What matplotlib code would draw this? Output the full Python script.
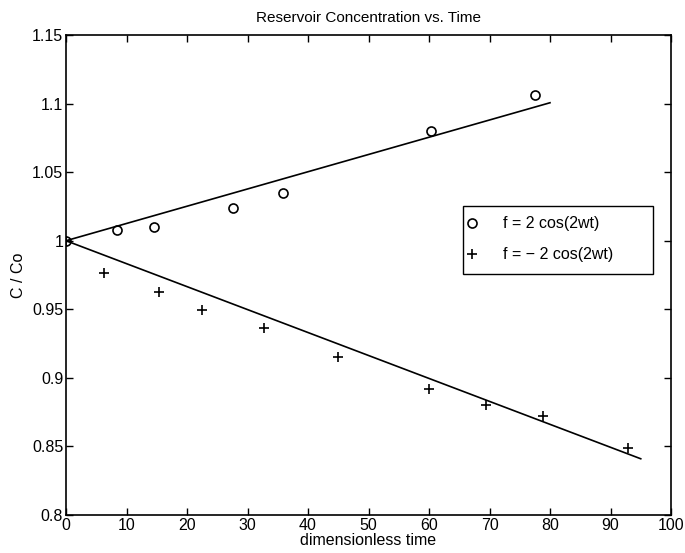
import numpy as np
import matplotlib
matplotlib.use("Agg")
import matplotlib.pyplot as plt
from matplotlib.ticker import FuncFormatter
from matplotlib.patches import Rectangle

plt.rcParams['font.family'] = ['Liberation Sans', 'DejaVu Sans']

# data
t_pos = [0, 8.4, 14.5, 27.6, 35.8, 60.3, 77.5]
c_pos = [1.000, 1.008, 1.0097, 1.0236, 1.0345, 1.0802, 1.1062]
t_neg = [0, 6.2, 15.4, 22.5, 32.7, 45.0, 60.0, 69.4, 78.9, 92.9]
c_neg = [1.000, 0.9762, 0.9626, 0.9492, 0.9361, 0.9154, 0.8919, 0.880, 0.8722, 0.8488]
fit_pos_t = [0, 80]
fit_pos_c = [1.0, 1.1006]
fit_neg_t = [0, 95]
fit_neg_c = [1.0, 0.841]

labels = ['f = 2 cos(2wt)', 'f = \u2212 2 cos(2wt)']
x_ticks = list(range(0, 101, 10))
y_ticks = [0.8, 0.85, 0.9, 0.95, 1.0, 1.05, 1.1, 1.15]

fig = plt.figure(figsize=(6.85, 5.53), dpi=100)
ax = fig.add_axes([66/685, 38/553, 605/685, 480/553])

ax.plot(fit_pos_t, fit_pos_c, color='black', lw=1.2)
ax.plot(fit_neg_t, fit_neg_c, color='black', lw=1.2)
h1, = ax.plot(t_pos, c_pos, linestyle='none', marker='o', ms=6.5, mfc='none',
              mec='black', mew=1.2, label=labels[0])
h2, = ax.plot(t_neg, c_neg, linestyle='none', marker='+', ms=7, mec='black',
              mew=1.2, label=labels[1])

ax.set_xlim(0, 100)
ax.set_ylim(0.8, 1.15)
ax.set_xticks(x_ticks)
ax.set_yticks(y_ticks)
ax.yaxis.set_major_formatter(FuncFormatter(lambda v, p: ('%g' % round(v, 2))))
ax.tick_params(direction='in', top=True, right=True, length=5, width=1,
               labelsize=11.5, pad=2)
for s in ax.spines.values():
    s.set_linewidth(1.2)

ax.set_title('Reservoir Concentration vs. Time', fontsize=11, pad=9)
ax.set_xlabel('dimensionless time', fontsize=11.5, labelpad=0)
ax.set_ylabel('C / Co', fontsize=11.5, labelpad=4)

# MATLAB-style legend box
ax.add_patch(Rectangle((0.656, 0.502), 0.315, 0.142, transform=ax.transAxes,
                       facecolor='white', edgecolor='black', lw=1.0, zorder=4))
leg = ax.legend(handles=[h1, h2], loc='upper left',
                bbox_to_anchor=(0.661, 0.622), fontsize=11.5,
                frameon=False, borderpad=0, handlelength=0.8,
                handletextpad=1.5, labelspacing=1.0, borderaxespad=0)
leg.set_zorder(5)

fig.savefig('out.png', dpi=100)
